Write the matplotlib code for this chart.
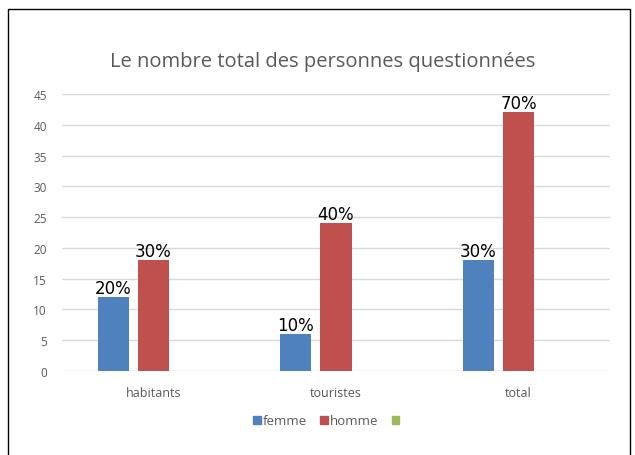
import matplotlib
matplotlib.use("Agg")
import matplotlib.pyplot as plt
import numpy as np
from matplotlib.patches import Rectangle, Patch

categories = ["habitants", "touristes", "total"]
femme = [12, 6, 18]
homme = [18, 24, 42]
femme_labels = ["20%", "10%", "30%"]
homme_labels = ["30%", "40%", "70%"]
yticks = [0, 5, 10, 15, 20, 25, 30, 35, 40, 45]

blue = "#4f81bd"
red = "#c0504d"
green = "#9bbb59"
grey = "#595959"

plt.rcParams['font.family'] = ['Open Sans', 'DejaVu Sans']

fig = plt.figure(figsize=(6.35, 4.56), dpi=100)
ax = fig.add_axes([62/635, (456-372)/456, (610-62)/635, (372-95)/456])

x = np.arange(len(categories))
w = 0.17
slot = 0.22
b1 = ax.bar(x - slot, femme, width=w, color=blue, zorder=3)
b2 = ax.bar(x, homme, width=w, color=red, zorder=3)

for rect, lab in zip(b1, femme_labels):
    ax.text(rect.get_x() + rect.get_width()/2, rect.get_height(), lab,
            ha="center", va="bottom", fontsize=12, color="black",
            family=["DejaVu Sans"], zorder=4)
for rect, lab in zip(b2, homme_labels):
    ax.text(rect.get_x() + rect.get_width()/2, rect.get_height(), lab,
            ha="center", va="bottom", fontsize=12, color="black",
            family=["DejaVu Sans"], zorder=4)

ax.set_xlim(-0.5, 2.5)
ax.set_ylim(0, 45)
ax.set_yticks(yticks)
ax.set_yticklabels([str(v) for v in yticks], fontsize=8.5, color=grey)
ax.set_xticks(x)
ax.set_xticklabels(categories, fontsize=9, color=grey)
ax.tick_params(axis="x", length=0, pad=11)
ax.tick_params(axis="y", length=0, pad=11)
ax.grid(axis="y", color="#d9d9d9", linewidth=1, zorder=0)
for s in ax.spines.values():
    s.set_visible(False)

fig.text(323/635, 1 - 62/456, "Le nombre total des personnes questionnées",
         ha="center", va="center", fontsize=14.5, color=grey)

handles = [Patch(color=blue, label="femme"), Patch(color=red, label="homme"),
           Patch(color=green, label="")]
fig.legend(handles=handles, loc="center", bbox_to_anchor=(327/635, 1 - 422/456),
           ncol=3, frameon=False, fontsize=9.5, handlelength=0.6, handleheight=0.6,
           handletextpad=0.15, columnspacing=1.0, labelcolor=grey)

fig.patches.append(Rectangle((8/635, -0.05), (630-8)/635, 1 - 10/456 + 0.05,
                             transform=fig.transFigure, fill=False,
                             edgecolor="black", linewidth=1))

fig.savefig("out.png", dpi=100)
